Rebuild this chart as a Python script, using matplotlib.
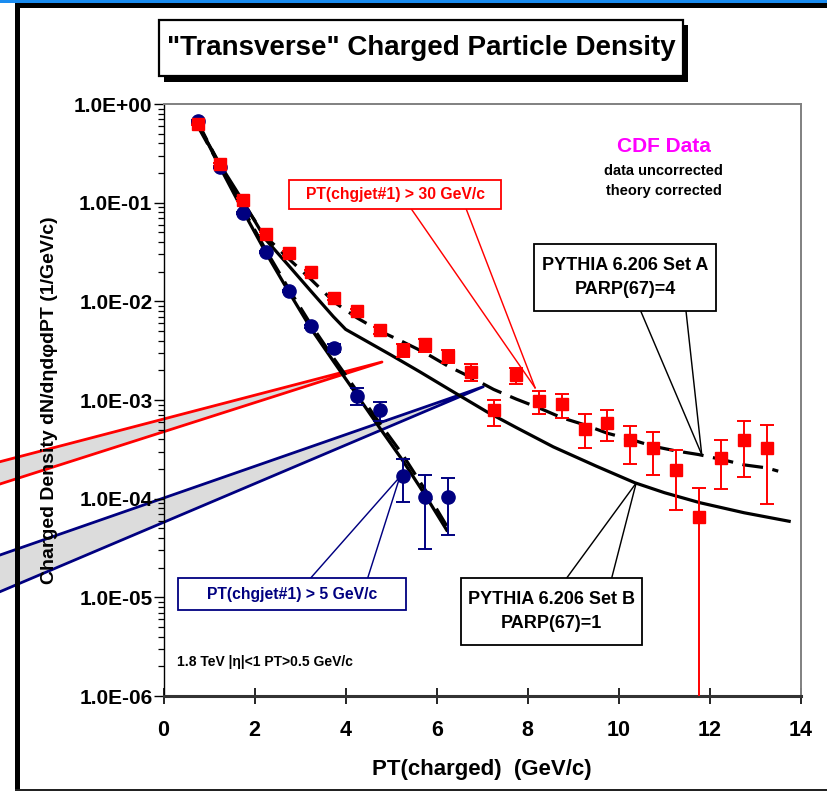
import matplotlib
matplotlib.use("Agg")
import matplotlib.pyplot as plt
from matplotlib.patches import Rectangle, Polygon
from matplotlib.lines import Line2D
from matplotlib.ticker import FixedLocator, FixedFormatter, LogLocator, NullFormatter

plt.rcParams['font.family'] = ['Liberation Sans', 'DejaVu Sans']
plt.rcParams['font.weight'] = 'bold'

# ---------------- data ----------------
pt_blue = [0.75, 1.25, 1.75, 2.25, 2.75, 3.25, 3.75, 4.25, 4.75, 5.25, 5.75, 6.25]
dens_blue = [0.677, 0.231, 0.079, 0.0318, 0.0127, 0.0056, 0.0034, 0.00111, 0.00080, 0.000171, 0.000104, 0.000104]
blue_lo = [0.66, 0.226, 0.0772, 0.0310, 0.0123, 0.0054, 0.0031, 0.00089, 0.00061, 0.000093, 0.000031, 0.000043]
blue_hi = [0.695, 0.236, 0.0808, 0.0326, 0.0131, 0.0058, 0.0037, 0.00131, 0.00096, 0.00025, 0.000173, 0.000162]

pt_red = [0.75, 1.25, 1.75, 2.25, 2.75, 3.25, 3.75, 4.25, 4.75, 5.25, 5.75, 6.25, 6.75,
          7.25, 7.75, 8.25, 8.75, 9.25, 9.75, 10.25, 10.75, 11.25, 11.75, 12.25, 12.75, 13.25]
dens_red = [0.627, 0.245, 0.107, 0.0484, 0.0306, 0.0196, 0.0108, 0.0079, 0.0051, 0.0032, 0.0037, 0.0028, 0.00193,
            0.00079, 0.00179, 0.00097, 0.00091, 0.00051, 0.00058, 0.00039, 0.000327, 0.000194, 0.000065, 0.000259, 0.00039, 0.000327]
red_hi = [0.645, 0.252, 0.111, 0.0505, 0.0322, 0.0207, 0.0114, 0.0084, 0.0055, 0.0037, 0.0042, 0.0032, 0.00229,
          0.00100, 0.00212, 0.00123, 0.00116, 0.00072, 0.00079, 0.00055, 0.00047, 0.00031, 0.000129, 0.00039, 0.00061, 0.00056]
red_lo = [0.61, 0.238, 0.103, 0.0465, 0.029, 0.0186, 0.0102, 0.0074, 0.0047, 0.0027, 0.0031, 0.00235, 0.00156,
          0.00054, 0.00144, 0.00072, 0.00065, 0.00033, 0.00038, 0.000225, 0.000175, 0.000076, 1e-9, 0.000126, 0.000166, 0.000088]

# PYTHIA Set A (dashed) and Set B (solid), PT(chgjet#1) > 30 GeV/c
setA30_x = [0.75, 1.25, 1.75, 2.25, 2.75, 3.25, 3.75, 4.25, 4.75, 5.25, 5.75, 6.25, 6.75, 7.25, 7.75,
            8.25, 8.75, 9.25, 9.75, 10.25, 10.75, 11.25, 11.75, 12.25, 12.75, 13.25, 13.5]
setA30_y = [0.60, 0.23, 0.098, 0.045, 0.027, 0.0165, 0.0098, 0.0068, 0.0050, 0.0039, 0.0030, 0.0022, 0.0017,
            0.00128, 0.00102, 0.00083, 0.00066, 0.00056, 0.00046, 0.00040, 0.00034, 0.000305, 0.00028,
            0.00025, 0.00022, 0.000205, 0.00019]
setB30_x = [0.75, 1.25, 1.75, 2.25, 2.75, 3.25, 3.73, 4.0, 4.5, 5.0, 5.63, 6.25, 7.1, 7.75, 8.56,
            9.5, 10.35, 11.0, 11.78, 12.75, 13.74]
setB30_y = [0.62, 0.24, 0.103, 0.042, 0.023, 0.0125, 0.0070, 0.0052, 0.00385, 0.00285, 0.00193, 0.00130,
            0.00076, 0.000525, 0.000335, 0.000214, 0.000145, 0.000115, 0.000091, 0.000072, 0.000059]

# PYTHIA Set A (dashed) and Set B (solid), PT(chgjet#1) > 5 GeV/c
set5_x = [0.75, 1.25, 1.75, 2.25, 2.75, 3.25, 3.75, 4.25, 4.75, 5.25, 5.75, 6.22]
setB5_y = [0.64, 0.225, 0.082, 0.031, 0.0125, 0.0052, 0.0024, 0.00112, 0.00052, 0.000245, 0.000108, 0.000048]
setA5_y = [0.66, 0.233, 0.086, 0.0330, 0.0134, 0.0057, 0.0026, 0.00123, 0.00058, 0.00028, 0.000122, 0.000053]

x_ticks = [0, 2, 4, 6, 8, 10, 12, 14]
y_ticks = [1e-6, 1e-5, 1e-4, 1e-3, 1e-2, 1e-1, 1e0]
y_tick_labels = ["1.0E-06", "1.0E-05", "1.0E-04", "1.0E-03", "1.0E-02", "1.0E-01", "1.0E+00"]

# ---------------- figure ----------------
W, H = 827, 791
fig = plt.figure(figsize=(W / 100, H / 100), dpi=100)
fig.patch.set_facecolor('white')

def fx(px):
    return px / W

def fy(py):
    return 1 - py / H

ax = fig.add_axes([fx(163.5), fy(696), (801 - 163.5) / W, (696 - 104) / H])
ax.set_xlim(0, 14)
ax.set_yscale('log')
ax.set_ylim(1e-6, 1)

NAVY = '#000080'
RED = '#ff0000'

def d2f(x, y):
    return fig.transFigure.inverted().transform(ax.transData.transform((x, y)))

# ---- grey wedge shapes at left (cropped callouts) ----
red_wedge = [(fx(0), fy(461.7)), (fx(382), fy(362)), (fx(0), fy(484))]
blue_wedge = [(fx(0), fy(555)), (fx(483.3), fy(386.7)), (fx(0), fy(591.7))]
for pts, col in [(red_wedge, RED), (blue_wedge, NAVY)]:
    ax.add_patch(Polygon(pts, closed=True, facecolor='#dcdcdc', edgecolor='none',
                         transform=fig.transFigure, clip_on=False, zorder=1))
    ax.add_line(Line2D([pts[0][0], pts[1][0], pts[2][0]], [pts[0][1], pts[1][1], pts[2][1]],
                       color=col, lw=2.0, transform=fig.transFigure, clip_on=False, zorder=1.2))

# ---- theory curves ----
ax.plot(setB30_x, setB30_y, color='black', lw=2.3, zorder=3)
ax.plot(setA30_x, setA30_y, color='black', lw=2.3, dashes=(6.5, 3.0), zorder=3)
ax.plot(set5_x, setB5_y, color='black', lw=2.3, zorder=3)
ax.plot(set5_x, setA5_y, color='black', lw=2.3, dashes=(6.5, 3.0), zorder=3)

# ---- data ----
b_err = [[y - l for y, l in zip(dens_blue, blue_lo)], [h - y for y, h in zip(dens_blue, blue_hi)]]
ax.errorbar(pt_blue, dens_blue, yerr=b_err, fmt='o', color=NAVY, ms=9.5, mec=NAVY,
            elinewidth=1.4, capsize=5, capthick=1.4, zorder=4)
r_err = [[y - l for y, l in zip(dens_red, red_lo)], [h - y for y, h in zip(dens_red, red_hi)]]
ax.errorbar(pt_red, dens_red, yerr=r_err, fmt='s', color=RED, ms=8.5, mec=RED,
            elinewidth=1.4, capsize=5, capthick=1.4, zorder=4)

# ---- axes styling ----
ax.xaxis.set_major_locator(FixedLocator(x_ticks))
ax.set_xticklabels([str(v) for v in x_ticks])
ax.yaxis.set_major_locator(FixedLocator(y_ticks))
ax.yaxis.set_major_formatter(FixedFormatter(y_tick_labels))
ax.yaxis.set_minor_locator(LogLocator(base=10, subs=[2, 3, 4, 5, 6, 7, 8, 9], numticks=20))
ax.yaxis.set_minor_formatter(NullFormatter())
ax.xaxis.set_minor_locator(FixedLocator([]))
ax.tick_params(axis='y', which='major', direction='out', length=7, width=1, labelsize=15, pad=1)
ax.tick_params(axis='y', which='minor', direction='out', length=4, width=0.9)
ax.tick_params(axis='x', which='major', direction='inout', length=12, width=1.2, labelsize=15.5, pad=11)
for lab in ax.get_xticklabels() + ax.get_yticklabels():
    lab.set_fontweight('bold')
ax.spines['left'].set_color('black')
ax.spines['left'].set_linewidth(1.0)
ax.spines['bottom'].set_color('#333333')
ax.spines['bottom'].set_linewidth(2.2)
ax.spines['top'].set_color('#808080')
ax.spines['top'].set_linewidth(1.4)
ax.spines['right'].set_color('#808080')
ax.spines['right'].set_linewidth(1.4)

# ---- axis labels ----
fig.text(fx(50), fy(400), "Charged Density dN/d\u03b7d\u03c6dPT (1/GeV/c)", rotation=90,
         ha='center', va='center', fontsize=14, fontweight='bold', zorder=5)
fig.text(fx(481.5), fy(770), "PT(charged)  (GeV/c)", ha='center', va='center',
         fontsize=16, fontweight='bold')

# ---- title box with shadow ----
fig.add_artist(Rectangle((fx(164), fy(81.5)), fx(688) - fx(164), fy(25) - fy(81.5),
                         transform=fig.transFigure, facecolor='black', edgecolor='none', zorder=5))
fig.add_artist(Rectangle((fx(159), fy(76)), fx(683) - fx(159), fy(20) - fy(76),
                         transform=fig.transFigure, facecolor='white', edgecolor='black', lw=1.6, zorder=6))
fig.text(fx(421), fy(48), "\"Transverse\" Charged Particle Density", ha='center', va='center',
         fontsize=20, fontweight='bold', zorder=7)

# ---- annotations ----
fig.text(fx(663.5), fy(146), "CDF Data", color='#ff00ff', ha='center', va='center',
         fontsize=15, fontweight='bold')
fig.text(fx(663.5), fy(171), "data uncorrected", ha='center', va='center', fontsize=10.5, fontweight='bold')
fig.text(fx(663.5), fy(191), "theory corrected", ha='center', va='center', fontsize=10.5, fontweight='bold')
fig.text(fx(177), fy(662), "1.8 TeV |\u03b7|<1 PT>0.5 GeV/c", ha='left', va='center',
         fontsize=10, fontweight='bold')

def callout(box, base1, base2, tip, color, lines, fs, line_ys, lw=1.3):
    x0, y0, x1, y1 = box
    tx, ty = d2f(*tip)
    for b in (base1, base2):
        fig.add_artist(Line2D([fx(b[0]), tx], [fy(b[1]), ty], color=color, lw=lw * 0.8,
                              transform=fig.transFigure, zorder=8))
    fig.add_artist(Rectangle((fx(x0), fy(y1)), fx(x1) - fx(x0), fy(y0) - fy(y1),
                             transform=fig.transFigure, facecolor='white', edgecolor=color, lw=lw, zorder=9))
    for txt, yy in zip(lines, line_ys):
        fig.text(fx((x0 + x1) / 2), fy(yy), txt, color=color, ha='center', va='center',
                 fontsize=fs, fontweight='bold', zorder=10)

callout((289, 180, 501, 208.5), (411, 208.5), (466, 208.5), (8.16, 1.33e-3), RED,
        ["PT(chgjet#1) > 30 GeV/c"], 11.3, [194.5])
callout((177.5, 578, 406, 609.5), (310.7, 578), (367.7, 578), (5.19, 1.66e-4), NAVY,
        ["PT(chgjet#1) > 5 GeV/c"], 11.3, [594])
callout((534, 243.5, 716, 311), (640.7, 311), (686, 311), (11.82, 2.8e-4), 'black',
        ["PYTHIA 6.206 Set A", "PARP(67)=4"], 13, [265.5, 289.5])
callout((461, 578, 642, 645), (566.7, 578), (611.7, 578), (10.38, 1.44e-4), 'black',
        ["PYTHIA 6.206 Set B", "PARP(67)=1"], 13, [600, 624])

# ---- slide frame ----
fig.add_artist(Rectangle((0, fy(3)), 1, fy(0) - fy(3), transform=fig.transFigure,
                         facecolor='#1a8cf0', edgecolor='none', zorder=20))
fig.add_artist(Rectangle((fx(14.5), fy(7.5)), 1 - fx(14.5), fy(3) - fy(7.5), transform=fig.transFigure,
                         facecolor='black', edgecolor='none', zorder=20))
fig.add_artist(Rectangle((fx(14.5), 0), fx(20) - fx(14.5), fy(3), transform=fig.transFigure,
                         facecolor='black', edgecolor='none', zorder=20))
fig.add_artist(Rectangle((fx(14.5), 0), 1 - fx(14.5), fy(789) - 0, transform=fig.transFigure,
                         facecolor='#222222', edgecolor='none', zorder=20))

fig.savefig("out.png", dpi=100)
